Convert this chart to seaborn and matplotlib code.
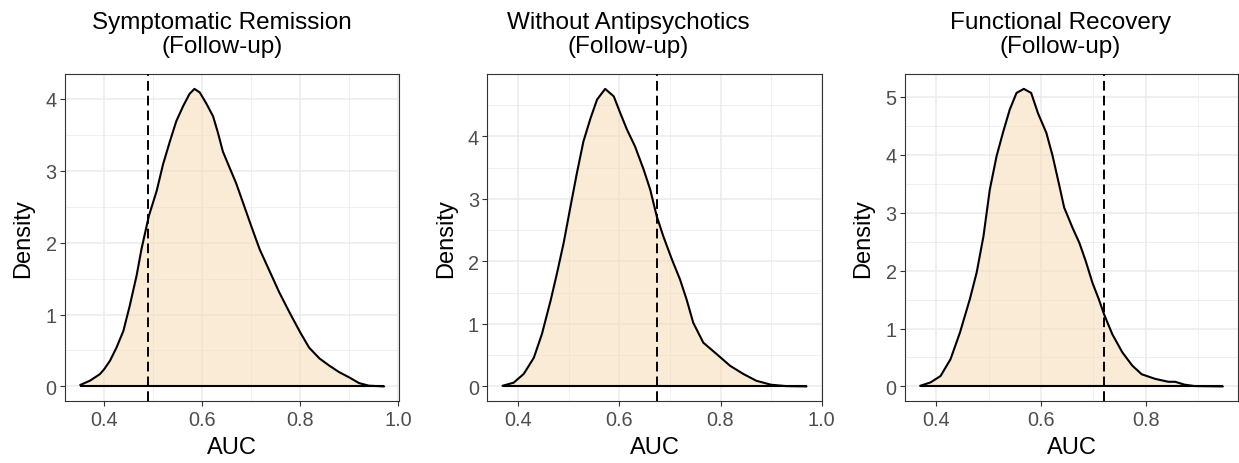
import numpy as np
import pandas as pd
import matplotlib
matplotlib.use("Agg")
import matplotlib.pyplot as plt
import seaborn as sns

# ---------------- data ----------------
titles = ["Symptomatic Remission", "Without Antipsychotics", "Functional Recovery"]
subtitle = "(Follow-up)"

sr_auc = [0.351, 0.371, 0.391, 0.400, 0.412, 0.425, 0.439, 0.452, 0.466, 0.476,
          0.491, 0.507, 0.520, 0.534, 0.547, 0.561, 0.574, 0.584, 0.595, 0.608,
          0.622, 0.632, 0.642, 0.656, 0.669, 0.683, 0.700, 0.717, 0.737, 0.757,
          0.778, 0.800, 0.818, 0.839, 0.859, 0.879, 0.900, 0.920, 0.940, 0.971]
sr_density = [0.02, 0.08, 0.17, 0.24, 0.36, 0.54, 0.77, 1.12, 1.54, 1.91,
              2.37, 2.72, 3.09, 3.41, 3.69, 3.90, 4.07, 4.14, 4.09, 3.94,
              3.76, 3.53, 3.27, 3.04, 2.83, 2.56, 2.23, 1.91, 1.61, 1.31,
              1.03, 0.75, 0.54, 0.39, 0.29, 0.20, 0.125, 0.046, 0.01, 0.00]
sr_cutoff = 0.49

wa_auc = [0.369, 0.391, 0.411, 0.431, 0.447, 0.464, 0.477, 0.490, 0.503, 0.516,
          0.529, 0.543, 0.556, 0.572, 0.589, 0.602, 0.615, 0.631, 0.648, 0.661,
          0.674, 0.687, 0.704, 0.720, 0.733, 0.746, 0.766, 0.792, 0.819, 0.845,
          0.871, 0.900, 0.930, 0.970]
wa_density = [0.01, 0.06, 0.20, 0.46, 0.84, 1.37, 1.82, 2.30, 2.86, 3.41,
              3.92, 4.29, 4.59, 4.76, 4.64, 4.37, 4.11, 3.84, 3.47, 3.15,
              2.72, 2.40, 2.03, 1.71, 1.39, 1.02, 0.70, 0.52, 0.33, 0.20,
              0.09, 0.027, 0.005, 0.00]
wa_cutoff = 0.674

fr_auc = [0.369, 0.389, 0.408, 0.427, 0.445, 0.464, 0.477, 0.490, 0.502, 0.515,
          0.527, 0.540, 0.553, 0.567, 0.581, 0.594, 0.610, 0.622, 0.635, 0.644,
          0.660, 0.673, 0.685, 0.698, 0.710, 0.720, 0.736, 0.755, 0.774, 0.792,
          0.818, 0.843, 0.856, 0.874, 0.893, 0.947]
fr_density = [0.01, 0.07, 0.18, 0.47, 0.93, 1.51, 1.97, 2.60, 3.40, 3.98,
              4.38, 4.78, 5.07, 5.14, 5.07, 4.72, 4.38, 3.98, 3.46, 3.09,
              2.74, 2.48, 2.17, 1.79, 1.51, 1.25, 0.90, 0.59, 0.36, 0.21,
              0.13, 0.08, 0.08, 0.03, 0.006, 0.00]
fr_cutoff = 0.72

x_ticks = [[0.4, 0.6, 0.8, 1.0], [0.4, 0.6, 0.8, 1.0], [0.4, 0.6, 0.8]]
y_ticks = [[0, 1, 2, 3, 4], [0, 1, 2, 3, 4], [0, 1, 2, 3, 4, 5]]

# ---------------- style ----------------
sns.set_theme(style="white")
plt.rcParams["font.family"] = ["Liberation Sans", "DejaVu Sans"]

FILL = "#F7DEBC"
GRID = "#EBEBEB"

fig = plt.figure(figsize=(12.39, 4.64), dpi=100)
W, H = 1239, 464
panels_px = [(65, 399.3), (487.3, 821.7), (905, 1238)]
top_px, bot_px = 75, 402.3
title_x = [222, 628, 1060]

series = [(sr_auc, sr_density, sr_cutoff),
          (wa_auc, wa_density, wa_cutoff),
          (fr_auc, fr_density, fr_cutoff)]

for i, ((xs, ys, cut), (l, r)) in enumerate(zip(series, panels_px)):
    ax = fig.add_axes([l / W, 1 - bot_px / H, (r - l) / W, (bot_px - top_px) / H])
    df = pd.DataFrame({"AUC": xs, "Density": ys})
    ax.fill_between(df["AUC"], df["Density"], 0, color=FILL, alpha=0.6, lw=0, zorder=2)
    sns.lineplot(data=df, x="AUC", y="Density", ax=ax, color="black", lw=1.5,
                 sort=False, zorder=3)
    ax.hlines(0, df["AUC"].min(), df["AUC"].max(), color="black", lw=1.5, zorder=3)
    ax.axvline(cut, color="black", lw=1.4, ls=(0, (5, 2.6)), zorder=4)

    ax.set_xticks(x_ticks[i])
    ax.set_xticklabels([f"{v:.1f}" for v in x_ticks[i]])
    ax.set_yticks(y_ticks[i])
    ax.set_yticklabels([str(v) for v in y_ticks[i]])
    xt = x_ticks[i]
    ax.set_xticks([v + 0.1 for v in [xt[0] - 0.2] + xt], minor=True)
    ax.set_yticks([v + 0.5 for v in [-1] + y_ticks[i]], minor=True)

    xr = df["AUC"].max() - df["AUC"].min()
    ax.set_xlim(df["AUC"].min() - 0.05 * xr, df["AUC"].max() + 0.05 * xr)
    yr = df["Density"].max()
    ax.set_ylim(-0.05 * yr, yr * 1.05)

    ax.grid(which="major", color=GRID, lw=1.1, zorder=0)
    ax.grid(which="minor", color=GRID, lw=0.55, zorder=0)
    ax.set_axisbelow(True)
    ax.tick_params(which="major", direction="out", length=3.5, width=0.8,
                   color="#333333", labelcolor="#4D4D4D", labelsize=14.3, pad=2.5,
                   bottom=True, left=True)
    ax.tick_params(which="minor", length=0)
    for s in ax.spines.values():
        s.set_color("#333333")
        s.set_linewidth(0.8)
    ax.set_xlabel("AUC", fontsize=17, color="black", labelpad=5)
    ax.set_ylabel("Density", fontsize=17, color="black", labelpad=8)

    fig.text(title_x[i] / W, 1 - 23 / H, titles[i], ha="center", va="center",
             fontsize=17.5, color="black")
    fig.text(title_x[i] / W, 1 - 47 / H, subtitle, ha="center", va="center",
             fontsize=17.5, color="black")

fig.savefig("out.png", dpi=100)
